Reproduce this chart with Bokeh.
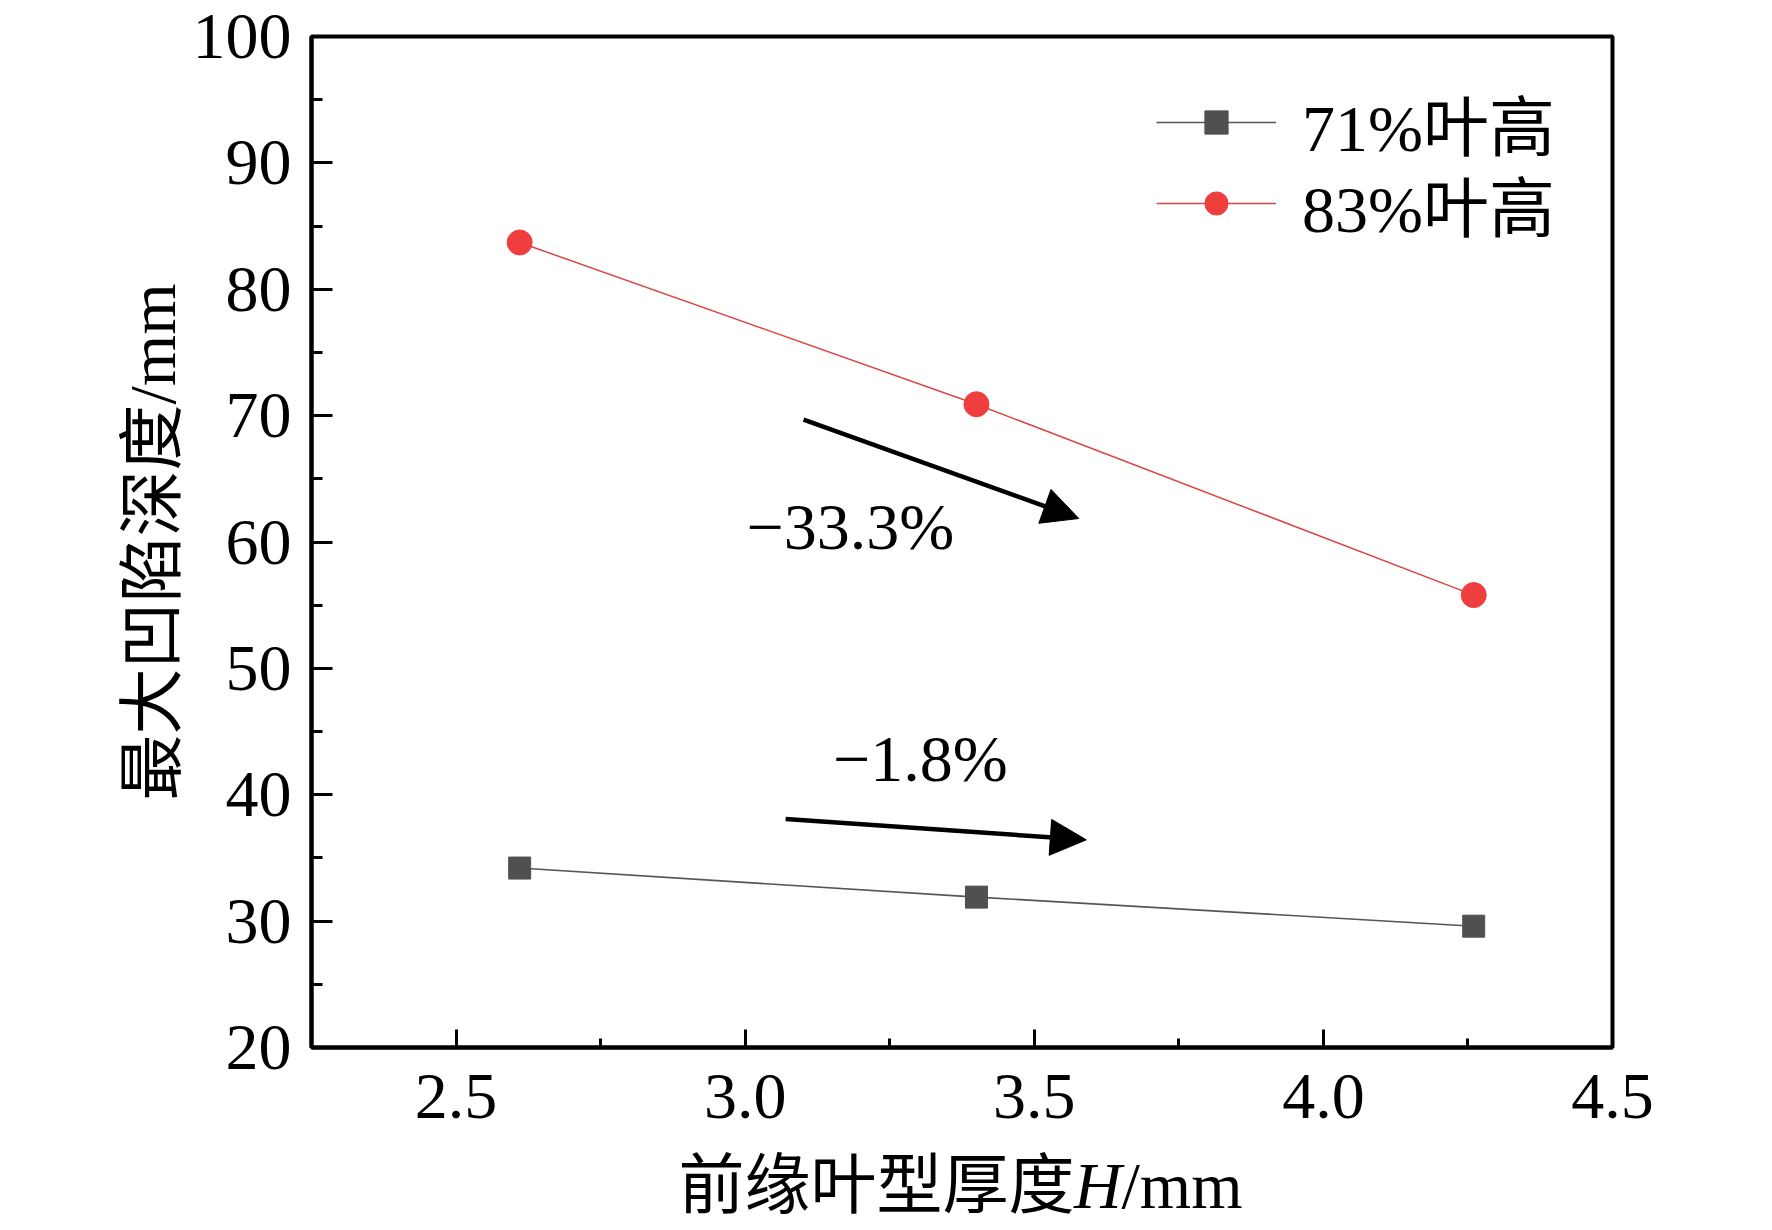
from bokeh.plotting import figure
from bokeh.layouts import column
from bokeh.models import (Range1d, FixedTicker, Label, Arrow, NormalHead,
                          Legend, LegendItem, CustomJSTickFormatter)
from bokeh.embed import file_html
from bokeh.resources import INLINE

# ---------------- data ----------------
thickness = [2.61, 3.40, 4.26]          # 前缘叶型厚度 H / mm
depth_71 = [34.2, 31.9, 29.6]           # 71%叶高
depth_83 = [83.7, 70.9, 55.8]           # 83%叶高
series_names = ["71%叶高", "83%叶高"]
x_ticks = [2.5, 3.0, 3.5, 4.0, 4.5]
x_tick_labels = ["2.5", "3.0", "3.5", "4.0", "4.5"]
x_minor = [2.75, 3.25, 3.75, 4.25]
y_ticks = [20, 30, 40, 50, 60, 70, 80, 90, 100]
y_minor = [25, 35, 45, 55, 65, 75, 85, 95]
change_labels = ["\u221233.3%", "\u22121.8%"]
x_title_parts = ["前缘叶型厚度", "H", "/mm"]
y_title = "最大凹陷深度/mm"

FONT = "Liberation Serif, Noto Sans CJK SC"
FS = "66px"

xr = Range1d(2.25, 4.5)
p = figure(frame_width=1301, frame_height=1011, output_backend="svg",
           toolbar_location=None, x_range=xr, y_range=Range1d(20, 100),
           min_border_left=311, min_border_right=160,
           min_border_top=36, min_border_bottom=95)
p.grid.visible = False
p.outline_line_color = "black"
p.outline_line_width = 4
p.background_fill_color = "white"
p.border_fill_color = "white"

for ax in list(p.xaxis) + list(p.yaxis):
    ax.axis_line_width = 4
    ax.axis_line_color = "black"
    ax.major_tick_line_width = 3
    ax.minor_tick_line_width = 3
    ax.major_tick_line_color = "black"
    ax.minor_tick_line_color = "black"
    ax.major_tick_out = 0
    ax.minor_tick_out = 0
    ax.major_label_text_font = FONT
    ax.major_label_text_font_size = FS
    ax.major_label_text_color = "black"

p.xaxis.major_tick_in = 18
p.xaxis.minor_tick_in = 9
p.yaxis.major_tick_in = 21
p.yaxis.minor_tick_in = 11
p.xaxis.ticker = FixedTicker(ticks=x_ticks, minor_ticks=x_minor)
p.yaxis.ticker = FixedTicker(ticks=y_ticks, minor_ticks=y_minor)
p.xaxis.formatter = CustomJSTickFormatter(
    args=dict(tvals=x_ticks, tlabels=x_tick_labels),
    code="""
    for (let i = 0; i < tvals.length; i++) {
        if (Math.abs(tvals[i] - tick) < 1e-9) return tlabels[i];
    }
    return tick.toFixed(1);
""")
p.xaxis.major_label_standoff = 27
p.yaxis.major_label_standoff = 20

p.yaxis.axis_label = y_title
p.yaxis.axis_label_text_font = FONT
p.yaxis.axis_label_text_font_size = FS
p.yaxis.axis_label_text_font_style = "normal"
p.yaxis.axis_label_text_color = "black"
p.yaxis.axis_label_standoff = 1

# ---------------- series ----------------
r1l = p.line(thickness, depth_71, line_color="#555555", line_width=1.6)
r1s = p.scatter(thickness, depth_71, marker="square", size=22,
                fill_color="#505050", line_color="#505050")
r2l = p.line(thickness, depth_83, line_color="#d94646", line_width=1.5)
r2s = p.scatter(thickness, depth_83, marker="circle", size=25,
                fill_color="#ef3e3e", line_color="#ef3e3e")

# one legend per row so the row pitch can match the reference
legend_rows = [([r1l, r1s], (845, 877)), ([r2l, r2s], (845, 796))]
for name, (rends, loc) in zip(series_names, legend_rows):
    lg = Legend(items=[LegendItem(label=name, renderers=rends)],
                location=loc, glyph_width=120, glyph_height=58,
                label_height=58, label_width=272, label_standoff=26,
                spacing=0, padding=0, margin=0,
                border_line_color=None, background_fill_alpha=0,
                label_text_font=FONT, label_text_font_size=FS,
                label_text_color="black")
    p.add_layout(lg)

# ---------------- annotations ----------------
p.add_layout(Arrow(x_start=3.101, y_start=69.68, x_end=3.577, y_end=61.86,
                   line_width=4.5, line_color="black",
                   end=NormalHead(size=36, fill_color="black",
                                  line_color="black", line_width=1)))
p.add_layout(Arrow(x_start=3.070, y_start=38.09, x_end=3.590, y_end=36.43,
                   line_width=4.5, line_color="black",
                   end=NormalHead(size=36, fill_color="black",
                                  line_color="black", line_width=1)))

p.add_layout(Label(x=3.182, y=61.2, text=change_labels[0], text_align="center",
                   text_baseline="alphabetic", text_font=FONT,
                   text_font_size=FS, text_color="black"))
p.add_layout(Label(x=3.303, y=42.9, text=change_labels[1], text_align="center",
                   text_baseline="alphabetic", text_font=FONT,
                   text_font_size=FS, text_color="black"))

# ---------------- x-axis title strip (italic H) ----------------
p2 = figure(width=1772, height=88, output_backend="svg", toolbar_location=None,
            x_range=xr, y_range=Range1d(0, 88),
            min_border_left=311, min_border_right=160,
            min_border_top=0, min_border_bottom=0,
            x_axis_type=None, y_axis_type=None)
p2.grid.visible = False
p2.outline_line_color = None
p2.background_fill_color = "white"
p2.border_fill_color = "white"

p2.add_layout(Label(x=3.5696, y=45, text=x_title_parts[0], text_align="right",
                    text_baseline="alphabetic", text_font=FONT,
                    text_font_size=FS, text_color="black"))
p2.add_layout(Label(x=3.610, y=45, text=x_title_parts[1], text_align="center",
                    text_baseline="alphabetic", text_font=FONT,
                    text_font_style="italic", text_font_size=FS,
                    text_color="black"))
p2.add_layout(Label(x=3.6509, y=45, text=x_title_parts[2], text_align="left",
                    text_baseline="alphabetic", text_font=FONT,
                    text_font_size=FS, text_color="black"))

layout = column(p, p2, spacing=0)
open("out.html", "w").write(file_html(layout, INLINE))
